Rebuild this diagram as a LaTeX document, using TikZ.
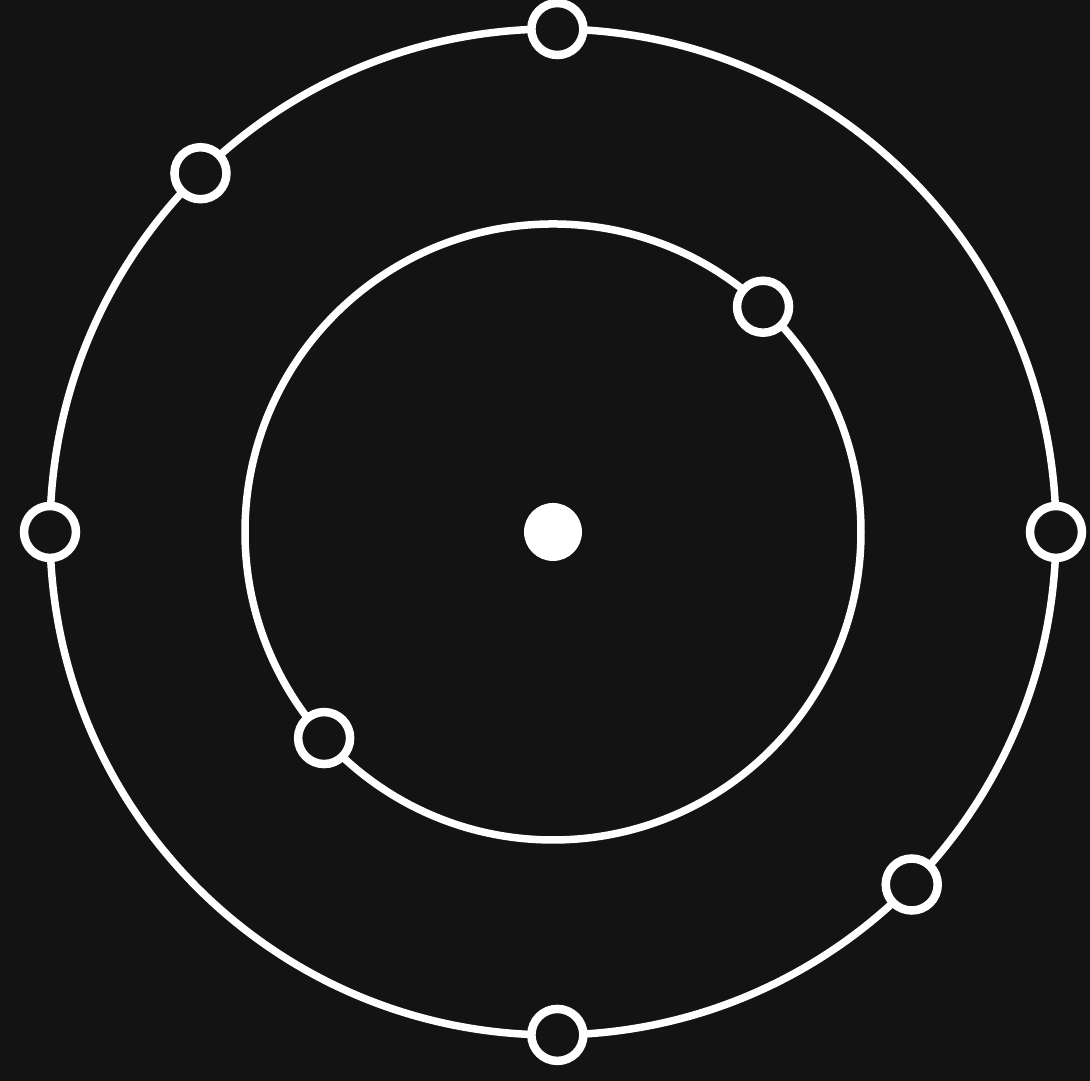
\documentclass[tikz,border=0pt]{standalone}
\usepackage{xcolor}
\usepackage{tikz}
\usetikzlibrary{calc}

\definecolor{slate}{RGB}{19,19,19}

\begin{document}
\begin{tikzpicture}[
  orbit/.style={draw=white, line width=0.075cm},
  ring/.style={circle, draw=white, fill=slate, line width=0.085cm, minimum size=0.52cm, inner sep=0pt},
  core/.style={circle, fill=white, minimum size=0.58cm, inner sep=0pt}
]

% Background
\fill[slate] (0,0) rectangle (10.9,10.81);
\useasboundingbox (0,0) rectangle (10.9,10.81);

% Nucleus
\node[core] (nucleus) at (5.53, 5.49) {};

% Orbits
\draw[orbit] (nucleus.center) circle[radius=5.03];
\draw[orbit] (nucleus.center) circle[radius=3.08];

% Outer shell
\node[ring] (outtop) at ($(nucleus.center)+(89.5:5.03)$) {};
\node[ring] (outnw) at ($(nucleus.center)+(134.5:5.03)$) {};
\node[ring] (outleft) at ($(nucleus.center)+(180:5.03)$) {};
\node[ring] (outright) at ($(nucleus.center)+(0:5.03)$) {};
\node[ring] (outse) at ($(nucleus.center)+(-44.5:5.03)$) {};
\node[ring] (outbottom) at ($(nucleus.center)+(270.5:5.03)$) {};

% Inner shell
\node[ring] (inne) at ($(nucleus.center)+(47:3.08)$) {};
\node[ring] (insw) at ($(nucleus.center)+(222:3.08)$) {};

\end{tikzpicture}
\end{document}
